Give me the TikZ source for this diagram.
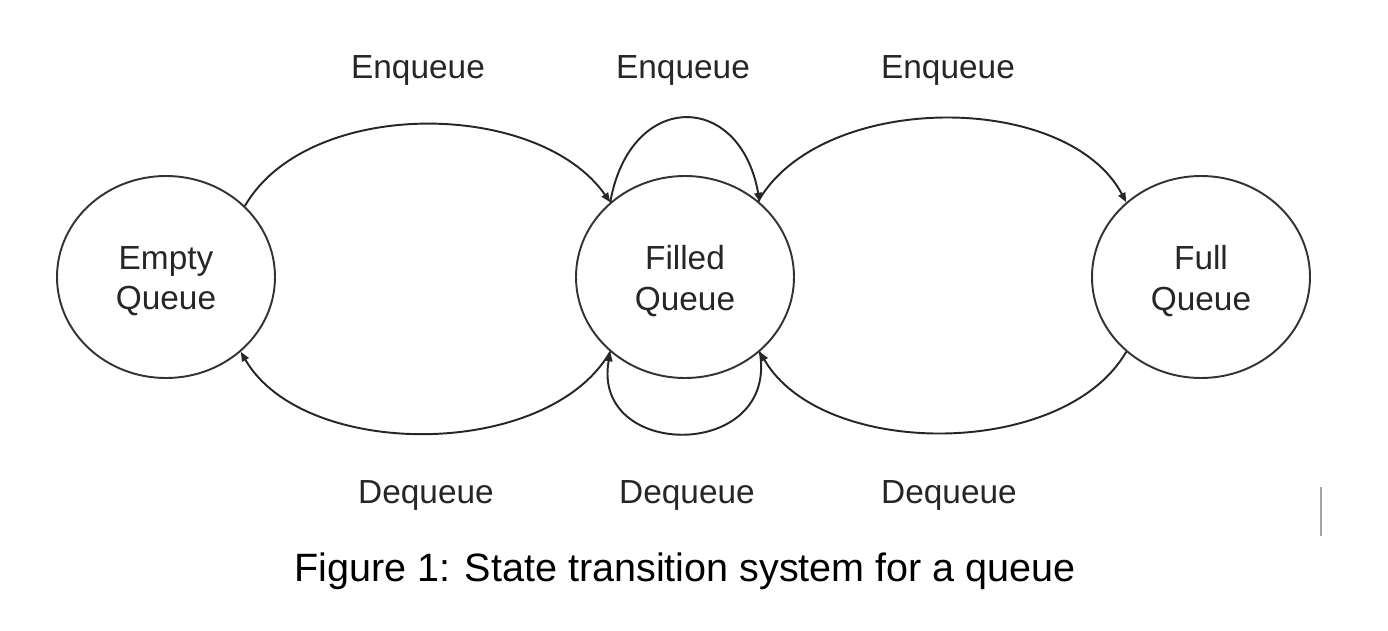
\documentclass[tikz,border=0pt]{standalone}
\usepackage{fontspec}
\setmainfont{Liberation Sans}
\usetikzlibrary{shapes.geometric,arrows.meta}
\begin{document}
\begin{tikzpicture}[
  state/.style={ellipse,draw=black!80,line width=1.1pt,minimum width=4.36cm,minimum height=4.04cm,inner sep=0pt},
  statetext/.style={align=center,text=black!85,inner sep=0pt,yshift=-0.08cm,font=\fontsize{19}{23}\selectfont},
  lbl/.style={text=black!85,inner sep=0pt,font=\fontsize{19}{24}\selectfont},
  trans/.style={draw=black!85,line width=1.1pt,-{Triangle[length=0.19cm,width=0.15cm]}}]
 \useasboundingbox (0,0) rectangle (27.76,12.6);
 % states
 \node[state,label={[statetext]center:Empty\\Queue}] (empty) at (3.32,7.06) {};
 \node[state,label={[statetext]center:Filled\\Queue}] (filled) at (13.70,7.06) {};
 \node[state,label={[statetext]center:Full\\Queue}] (full) at (24.02,7.06) {};
 % enqueue
 \draw[trans] (empty.42) to[out=60,in=125,looseness=0.88] (filled.135);
 \draw[trans] (filled.135) to[out=80,in=100,looseness=1.95] (filled.45);
 \draw[trans] (filled.46) to[out=60,in=118,looseness=0.88] (full.135);
 % dequeue
 \draw[trans] (filled.225) to[out=240,in=-60,looseness=0.87] (empty.-45);
 \draw[trans] (filled.-45) to[out=-80,in=-100,looseness=1.9] (filled.225);
 \draw[trans] (full.225) to[out=240,in=-60,looseness=0.87] (filled.-45);
 % labels
 \node[lbl] (enq1) at (8.36,11.20) {Enqueue};
 \node[lbl] (enq2) at (13.66,11.20) {Enqueue};
 \node[lbl] (enq3) at (18.96,11.20) {Enqueue};
 \node[lbl] (deq1) at (8.52,2.70) {Dequeue};
 \node[lbl] (deq2) at (13.74,2.70) {Dequeue};
 \node[lbl] (deq3) at (18.98,2.70) {Dequeue};
 \node[inner sep=0pt,font=\fontsize{22.5}{27}\selectfont] (caption) at (13.70,1.18) {Figure 1: State transition system for a queue};
 \draw[black!35,line width=1.2pt] (26.42,2.86) -- (26.42,1.89);
\end{tikzpicture}
\end{document}
